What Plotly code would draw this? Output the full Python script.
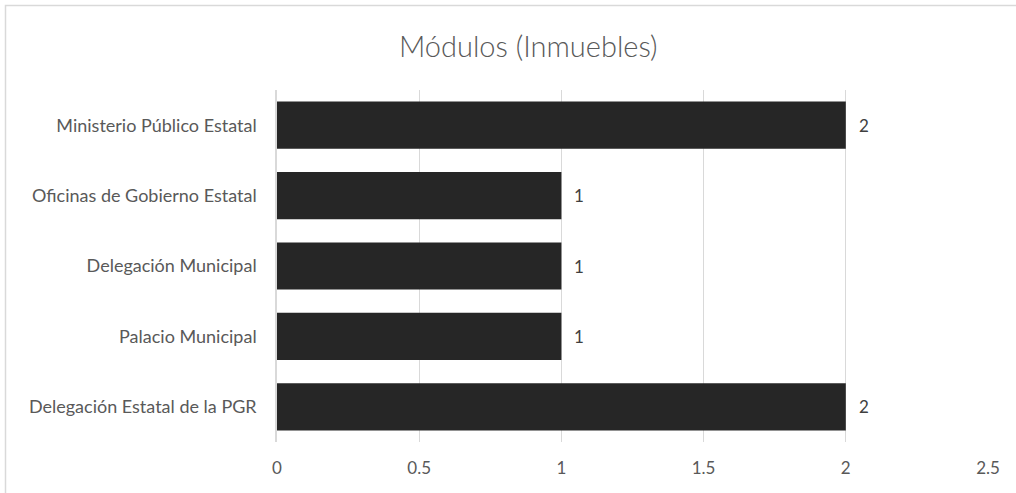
import plotly.graph_objects as go

categories = [
    "Ministerio Público Estatal",
    "Oficinas de Gobierno Estatal",
    "Delegación Municipal",
    "Palacio Municipal",
    "Delegación Estatal de la PGR",
]
values = [2, 1, 1, 1, 2]
x_ticks = [0, 0.5, 1, 1.5, 2, 2.5]

W, H = 1016, 493
ml, mr, mt, mb = 277, 28, 90, 51
pw, ph = W - ml - mr, H - mt - mb

fig = go.Figure()
fig.add_trace(go.Bar(
    x=values,
    y=categories,
    orientation="h",
    marker=dict(color="#262626", line=dict(width=0)),
    width=0.67,
))

# value labels to the right of each bar
for cat, v in zip(categories, values):
    fig.add_annotation(
        x=v, y=cat, text=f"{v}", showarrow=False,
        xanchor="left", xshift=11,
        font=dict(size=17, color="#404040"),
    )

# light frame of the chart area (only top/left edges visible in the crop)
fig.add_shape(
    type="rect", xref="paper", yref="paper",
    x0=(5.5 - ml) / pw, x1=(W + 20 - ml) / pw,
    y0=-(H + 20 - mt - ph) / ph, y1=1 + (mt - 5.5) / ph,
    line=dict(color="#d9d9d9", width=1.5), layer="below",
)

fig.update_layout(
    width=W, height=H,
    margin=dict(l=ml, r=mr, t=mt, b=mb, autoexpand=False),
    paper_bgcolor="white",
    plot_bgcolor="white",
    font=dict(family="Lato, Carlito, Calibri, sans-serif", color="#595959", size=17),
    title=dict(text="Módulos (Inmuebles)", x=0.52, xref="container", xanchor="center",
               y=1 - 47 / H, yanchor="middle",
               font=dict(size=29, color="#595959", weight=300)),
    showlegend=False,
)
fig.update_xaxes(
    range=[0, 2.5],
    tickvals=x_ticks,
    ticktext=[f"{t:g}" for t in x_ticks],
    showgrid=True, gridcolor="#d9d9d9", gridwidth=1,
    zeroline=False, showline=False,
    ticks="", ticklabelstandoff=14,
    tickfont=dict(size=17, color="#595959"),
)
fig.update_yaxes(
    categoryorder="array",
    categoryarray=categories[::-1],
    showgrid=False, zeroline=False,
    showline=True, linecolor="#d9d9d9", linewidth=1.5,
    ticks="", ticklabelstandoff=15,
    tickfont=dict(size=18, color="#595959"),
)

fig.write_html("out.html", config={"displayModeBar": False},
               post_script="document.body.style.margin='0';")
